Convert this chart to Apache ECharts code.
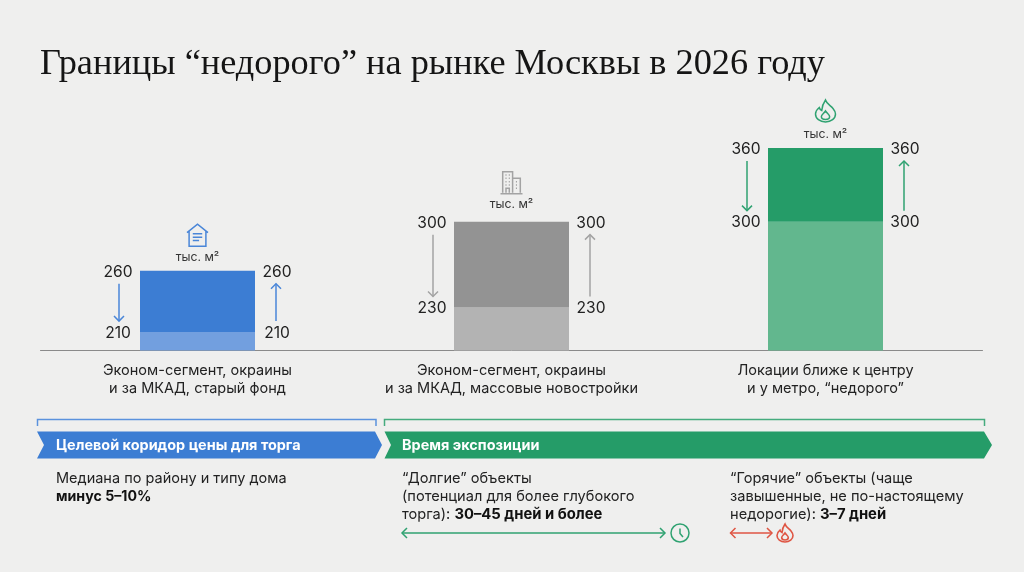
<!DOCTYPE html>
<html><head><meta charset="utf-8">
<style>html,body{margin:0;padding:0;background:#efefee}#c{width:1024px;height:572px}</style>
<script src="https://cdn.jsdelivr.net/npm/echarts@6/dist/echarts.min.js"></script>
</head><body><div id="c"></div>
<script>
const titleText = 'Границы “недорого” на рынке Москвы в 2026 году';
const categories = ['Эконом-сегмент, окраины\nи за МКАД, старый фонд','Эконом-сегмент, окраины\nи за МКАД, массовые новостройки','Локации ближе к центру\nи у метро, “недорого”'];
const lowValues = [210,230,300];
const highValues = [260,300,360];
const unitLabel = 'тыс. м²';
const darkColors = ['#3c7dd3','#939393','#259c68'];
const lightColors = ['#729fdf','#b3b3b3','#62b78e'];
const arrowColors = ['#4a86d8','#a3a3a3','#2fa271'];
const bandTitles = ['Целевой коридор цены для торга','Время экспозиции'];
const noteMedian = ['Медиана по району и типу дома'];
const noteMedianBold = 'минус 5–10%';
const noteLong = ['“Долгие” объекты','(потенциал для более глубокого'];
const noteLongLast = ['торга): ','30–45 дней и более'];
const noteHot = ['“Горячие” объекты (чаще','завышенные, не по-настоящему'];
const noteHotLast = ['недорогие): ','3–7 дней'];

const FONT = 'Inter';
const flame = 'M12 1c1 4 4 5.500 6 8.500 1.500 2.300 2 4 2 5.500 0 4.500-3.500 8-8 8s-8-3.500-8-8c0-3 1.500-5 3-6.500.3 1.500 1 2.500 2 3 .2-3.500 1-7 3-10.500zM12 20.500c-2 0-3.300-1.400-3.300-3 0-2 2-3 3.300-5.500 1.300 2.500 3.300 3.500 3.300 5.500 0 1.600-1.300 3-3.300 3z';
const house = 'M1 9.500L11 2l10 7.500M3 8.500V21.500H19V8.500M6.500 10.500H15.500M6.500 13.500H15.500M6.500 16.500H12.500';
const building = 'M3 21V2H12V21M12 8H19V21M1 21.800H21M5.500 5h1M8.500 5h1M5.500 8h1M8.500 8h1M5.500 11h1M8.500 11h1M5.500 14h1M8.500 14h1M15 11h1M15 14h1M15 17h1M6 21v-4h3v4';
const icons = [
  {d:house, w:21, h:22, dy:35.500, unitDy:13},
  {d:building, w:22, h:22, dy:39, unitDy:17},
  {d:flame, w:20, h:22, dy:37, unitDy:14}
];
const clock = 'M12 3a9 9 0 1 0 .01 0zM12 7.500V12.500L15 16';

function arrow(x, y1, y2, color){
  const s = y2 > y1 ? -1 : 1;
  return {type:'polyline', silent:true, shape:{points:[[x-5,y2+s*5],[x,y2],[x+5,y2+s*5]]}, style:{fill:'none',stroke:color,lineWidth:1.500}};
}
function vline(x,y1,y2,color){ return {type:'line',silent:true,shape:{x1:x,y1:y1,x2:x,y2:y2},style:{stroke:color,lineWidth:1.500}}; }
function txt(x,y,t,size,opts){ return {type:'text',silent:true,style:Object.assign({x:x,y:y,text:t,fill:'#222',font:(opts&&opts.w||400)+' '+size+'px '+FONT,textAlign:'center',textVerticalAlign:'middle'},opts&&opts.s||{})}; }

const rows = categories.map((c,i)=>[i,lowValues[i],highValues[i]]);

function renderAnn(params, api){
  const i = api.value(0);
  const pHi = api.coord([i, api.value(2)]);
  const pLo = api.coord([i, api.value(1)]);
  const cx = pHi[0], top = pHi[1], low = pLo[1], col = arrowColors[i];
  const dx = 79.500;
  const kids = [];
  [-1,1].forEach(sign=>{
    const x = cx + sign*dx;
    kids.push(txt(x, top+1.500, String(api.value(2)), 15.600));
    kids.push(txt(x, low+1, String(api.value(1)), 15.600));
    const ax = cx + sign*78.500;
    kids.push(vline(ax, top+13, low-11, col));
    kids.push(sign<0 ? arrow(ax, top+13, low-11, col) : arrow(ax, low-11, top+13, col));
  });
  const ic = icons[i];
  kids.push(txt(cx, top-ic.unitDy, unitLabel, 12.200, {s:{fill:'#333'}}));
  kids.push({type:'path',silent:true,shape:{pathData:ic.d,layout:'cover',x:cx-ic.w/2,y:top-ic.dy-ic.h/2,width:ic.w,height:ic.h},style:{fill:'none',stroke:col,lineWidth:1.500}});
  return {type:'group',children:kids};
}

const chevron = (x0,notch,sh,tip,color)=>({type:'polygon',silent:true,shape:{points:[[x0,431.500],[sh,431.500],[tip,445],[sh,458.500],[x0,458.500],[notch,445]]},style:{fill:color}});
const bracket = (x1,x2,color)=>({type:'polyline',silent:true,shape:{points:[[x1,426],[x1,419.500],[x2,419.500],[x2,426]]},style:{fill:'none',stroke:color,lineWidth:1.500}});
const left = (x,y,t,size,w,fill)=>({type:'text',silent:true,style:{x:x,y:y,text:t,fill:fill||'#222',font:(w||400)+' '+size+'px '+FONT,textAlign:'left',textVerticalAlign:'middle'}});
const mixed = (x,y,pair)=>({type:'text',silent:true,style:{x:x,y:y,text:'{a|'+pair[0]+'}{b|'+pair[1]+'}',textAlign:'left',textVerticalAlign:'middle',rich:{a:{font:'400 14.600px '+FONT,fill:'#222'},b:{font:'700 14.800px '+FONT,fill:'#111'}}}});
const hLine = (x1,x2,y,c)=>({type:'line',silent:true,shape:{x1,y1:y,x2,y2:y},style:{stroke:c,lineWidth:1.500}});
const heads = (x1,x2,y,c)=>[
  {type:'polyline',silent:true,shape:{points:[[x1+5,y-5],[x1,y],[x1+5,y+5]]},style:{fill:'none',stroke:c,lineWidth:1.500}},
  {type:'polyline',silent:true,shape:{points:[[x2-5,y-5],[x2,y],[x2-5,y+5]]},style:{fill:'none',stroke:c,lineWidth:1.500}}];

const green='#259c68', red='#df5543', lineGreen='#2fa271';
const graphics = [
  bracket(37.500,376,'#5b92dd'), bracket(384.500,984.500,'#45ab7e'),
  chevron(37,44,375,382,'#3c7dd3'), chevron(384.500,391,984,992,green),
  left(56,445.500,bandTitles[0],14.450,700,'#fff'), left(402,445.500,bandTitles[1],14.450,700,'#fff'),
  left(56,478.500,noteMedian[0],14.500), left(56,496.500,noteMedianBold,14.200,700,'#111'),
  left(402,478.500,noteLong[0],14.600), left(402,496.500,noteLong[1],14.600), mixed(402,514.500,noteLongLast),
  left(730,478.500,noteHot[0],14.600), left(730,496.500,noteHot[1],14.600), mixed(730,514.500,noteHotLast),
  hLine(402,665,533,lineGreen), ...heads(402,665,533,lineGreen),
  hLine(730.500,772,533,red), ...heads(730.500,772,533,red)
];
function renderSmallIcons(){
  return {type:'group',children:[
    {type:'path',silent:true,shape:{pathData:clock,x:671,y:524,width:18,height:18},style:{fill:'none',stroke:lineGreen,lineWidth:1.500}},
    {type:'path',silent:true,shape:{pathData:flame,layout:'cover',x:777,y:524,width:16,height:18},style:{fill:'none',stroke:red,lineWidth:1.600}}
  ]};
}

const chart = echarts.init(document.getElementById('c'),null,{renderer:'canvas'});
chart.setOption({
  backgroundColor:'#efefee',
  animation:false,
  title:{text:titleText,left:40,top:46,padding:0,textStyle:{fontFamily:'Liberation Serif',fontWeight:400,fontSize:36.300,color:'#151515'}},
  grid:{left:40.500,right:1024-982.500,top:148,bottom:572-350.500,containLabel:false},
  xAxis:{type:'category',data:categories,axisTick:{show:false},axisLine:{lineStyle:{color:'#8a8a8a',width:1}},
    axisLabel:{interval:0,margin:11,fontFamily:FONT,fontSize:14.500,lineHeight:18,color:'#222',align:'center'}},
  yAxis:{type:'value',min:195,max:360,show:false,splitLine:{show:false}},
  series:[
    {type:'bar',stack:'p',barWidth:115,silent:true,data:lowValues.map((v,i)=>({value:v,itemStyle:{color:lightColors[i]}}))},
    {type:'bar',stack:'p',barWidth:115,silent:true,data:highValues.map((v,i)=>({value:v-lowValues[i],itemStyle:{color:darkColors[i]}}))},
    {type:'custom',data:rows,renderItem:renderAnn,silent:true,z:5,clip:false,encode:{x:0,y:[1,2]}},
    {type:'custom',coordinateSystem:'none',data:[[0]],renderItem:renderSmallIcons,silent:true,z:5}
  ],
  graphic:{elements:graphics}
});
</script></body></html>
